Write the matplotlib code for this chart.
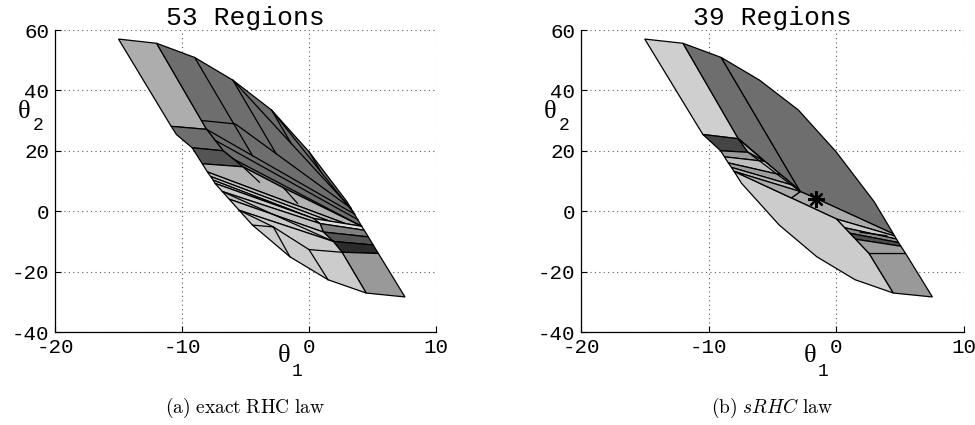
import matplotlib
matplotlib.use("Agg")
import matplotlib.pyplot as plt
from matplotlib.patches import Polygon

plt.rcParams['axes.unicode_minus'] = False
plt.rcParams['mathtext.fontset'] = 'cm'

# ---------------- data ----------------
titles = ["53 Regions", "39 Regions"]
captions = [r"$\mathrm{(a)\ exact\ RHC\ law}$", r"$\mathrm{(b)}\ sRHC\ \mathrm{law}$"]
xticks = [-20, -10, 0, 10]
yticks = [-40, -20, 0, 20, 40, 60]

# left plot: exact RHC partition (polygon vertices in (theta1, theta2))
left_regions = [
    [(-15, 57), (-12, 55.6), (-8.06, 27.1), (-10.85, 28.1)],
    [(-12, 55.6), (-9, 50.9), (-6, 43.4), (-2.95, 33.5), (0, 19.7), (3, 3.1), (4.15, -5.0),
     (-2.0, 7.7), (-5.2, 14.7), (-6.75, 20.0), (-8.06, 27.1)],
    [(-10.85, 28.1), (-8.06, 27.1), (-6.75, 20.0), (-9.2, 21.0), (-10.44, 25.4)],
    [(-9.2, 21.0), (-6.75, 20.0), (-5.2, 14.7), (-8.4, 15.7)],
    [(-8.4, 15.7), (-5.2, 14.7), (-2.0, 7.7), (4.15, -5.0), (2.9, -4.15), (-8.0, 13.0)],
    [(-8.0, 13.0), (2.9, -4.15), (1.6, -3.26), (-7.75, 11.5)],
    [(-7.75, 11.5), (1.6, -3.26), (0.34, -2.4), (-7.55, 10.3)],
    [(-7.55, 10.3), (0.34, -2.4), (-7.4, 9.2)],
    [(0.34, -2.4), (4.15, -5.0), (4.35, -6.3), (0.87, -4.1)],
    [(0.87, -4.1), (4.35, -6.3), (4.67, -8.5), (1.13, -6.9)],
    [(1.13, -6.9), (4.67, -8.5), (5.06, -11.2), (1.91, -10.0)],
    [(1.91, -10.0), (5.06, -11.2), (5.46, -14.0), (2.6, -13.6)],
    [(2.6, -13.6), (5.46, -14.0), (7.56, -28.4), (4.5, -27.1)],
    [(-7.4, 9.2), (0.34, -2.4), (0.87, -4.1), (-6.82, 6.5)],
    [(-6.82, 6.5), (0.87, -4.1), (1.13, -6.9), (-6.29, 4.0)],
    [(-6.29, 4.0), (1.13, -6.9), (1.91, -10.0), (-5.5, 0.3)],
    [(-5.5, 0.3), (1.91, -10.0), (2.6, -13.6), (4.5, -27.1), (1.5, -22.7), (-1.5, -15.1),
     (-4.45, -4.6)],
]
left_grays = [0.68, 0.43, 0.43, 0.33, 0.70, 0.75, 0.80, 0.72, 0.88, 0.50, 0.33, 0.17,
              0.60, 0.80, 0.76, 0.80, 0.80]
left_edges = [
    [(-9, 50.9), (-4.45, 18.4)],
    [(-6, 43.4), (-2.59, 19.05)],
    [(-2.95, 33.5), (-1.40, 22.4)],
    [(0, 19.7), (0.92, 13.1)],
    [(-8.4, 30.0), (-5.8, 28.9), (3.3, 1.0)],
    [(-8.06, 27.1), (3.6, -1.0)],
    [(-7.4, 23.5), (3.85, -2.8)],
    [(-6.0, 17.4), (4.15, -5.0)],
    [(-6, 43.4), (3.3, 1.0)],
    [(-2.95, 33.5), (3.6, -1.0)],
    [(-5.2, 14.7), (-3.9, 9.6)],
    [(-2.0, 7.7), (-0.9, 2.6)],
    [(-2.81, -5.2), (-1.5, -15.1)],
    [(0.0, -12.7), (1.5, -22.7)],
    [(-5.5, 0.3), (-2.81, -5.2), (0.0, -12.7), (2.6, -13.6)],
    [(-6.82, 6.5), (1.91, -10.0)],
    [(-4.45, -4.6), (-2.81, -5.2)],
]

# right plot: sRHC partition
right_regions = [
    [(-15, 57), (-12, 55.6), (-7.66, 24.0), (-10.44, 25.4)],
    [(-12, 55.6), (-9, 50.9), (-2.8, 6.5), (-7.66, 24.0)],
    [(-9, 50.9), (-6, 43.4), (-2.95, 33.5), (0, 19.7), (3, 3.1), (4.5, -7.5), (-1.6, 4.3),
     (-2.8, 6.5)],
    [(-2.8, 6.5), (-1.6, 4.3), (4.5, -7.5), (4.6, -8.2), (0.05, -2.6), (-3.5, 4.4)],
    [(-8.0, 13.2), (0.05, -2.6), (2.6, -14.0), (4.5, -27.1), (1.5, -22.7), (-1.5, -15.1),
     (-4.45, -4.6), (-7.4, 9.2)],
    [(2.6, -14.0), (5.46, -14.0), (7.56, -28.4), (4.5, -27.1)],
    [(0.05, -2.6), (4.6, -8.2), (4.74, -9.2), (0.7, -5.5)],
    [(0.7, -5.5), (4.74, -9.2), (4.91, -10.4), (1.1, -7.3)],
    [(1.1, -7.3), (4.91, -10.4), (5.09, -11.6), (1.55, -9.3)],
    [(1.55, -9.3), (5.09, -11.6), (5.46, -14.0), (2.6, -14.0)],
    [(-10.44, 25.4), (-7.66, 24.0), (-6.9, 19.5), (-9.05, 20.0)],
    [(-7.66, 24.0), (-2.8, 6.5), (-3.3, 8.5), (-4.3, 12.0), (-5.6, 16.5), (-6.9, 19.5)],
    [(-9.05, 20.0), (-6.9, 19.5), (-5.6, 16.5), (-8.75, 18.0)],
    [(-8.75, 18.0), (-5.6, 16.5), (-4.3, 12.0), (-8.45, 16.0)],
    [(-8.45, 16.0), (-4.3, 12.0), (-3.3, 8.5), (-8.2, 14.5)],
    [(-8.2, 14.5), (-3.3, 8.5), (-2.8, 6.5), (-8.0, 13.2)],
    [(-8.0, 13.2), (-2.8, 6.5), (-3.5, 4.4)],
]
right_grays = [0.81, 0.43, 0.43, 0.67, 0.80, 0.60, 0.80, 0.55, 0.30, 0.62,
               0.27, 0.68, 0.60, 0.75, 0.62, 0.72, 0.67]
right_edges = [
    [(-7.66, 24.0), (-5.99, 18.0)],
    [(-6.9, 19.5), (-2.8, 6.5)],
    [(1.9, -7.0), (3.98, -8.1)],
]
star_point = (-1.57, 4.0)

# ---------------- figure ----------------
W, H = 975, 425
fig = plt.figure(figsize=(W / 100, H / 100), dpi=100)

mono = 'Liberation Mono'
axes_px = [(55, 436), (581, 963.5)]
top_px, bot_px = 30, 332

panels = [(left_regions, left_grays, left_edges), (right_regions, right_grays, right_edges)]
for k, (regs, grays, edges) in enumerate(panels):
    x0, x1 = axes_px[k]
    ax = fig.add_axes([x0 / W, 1 - bot_px / H, (x1 - x0) / W, (bot_px - top_px) / H])
    ax.set_xlim(-20, 10)
    ax.set_ylim(-40, 60)
    ax.set_xticks(xticks)
    ax.set_yticks(yticks)
    ax.set_xticklabels([str(v) for v in xticks], family=mono, fontsize=15)
    ax.set_yticklabels([str(v) for v in yticks], family=mono, fontsize=15)
    ax.tick_params(direction='in', length=4, width=0.8, pad=4)
    for s in ['top', 'right']:
        ax.spines[s].set_visible(False)
    for s in ['left', 'bottom']:
        ax.spines[s].set_linewidth(0.9)
    ax.set_axisbelow(True)
    ax.grid(True, linestyle=(0, (1, 3)), color='0.35', linewidth=0.8)
    for verts, g in zip(regs, grays):
        ax.add_patch(Polygon(verts, closed=True, facecolor=str(g), edgecolor='black',
                             linewidth=0.9, zorder=2))
    for seg in edges:
        xs = [p[0] for p in seg]
        ys = [p[1] for p in seg]
        ax.plot(xs, ys, color='black', linewidth=0.9, zorder=3)
    if k == 1:
        ax.plot([star_point[0]], [star_point[1]], marker=(8, 2, 0), markersize=12,
                markeredgewidth=1.6, color='black', zorder=5)
    ax.set_title(titles[k], family=mono, fontsize=19, pad=3)
    # axis labels (Matlab-like placement, given in axes-relative pixels)
    axw, axh = (x1 - x0), (bot_px - top_px)
    def lab(px, py, s, fam, fs):
        ax.text((px - x0) / axw, (bot_px - py) / axh, s, family=fam, fontsize=fs,
                ha='center', va='center', transform=ax.transAxes, clip_on=False)
    lab(x0 + 229, 356, 'θ', 'Liberation Serif', 19)
    lab(x0 + 242, 372, '1', mono, 13)
    lab(x0 - 31, 112, 'θ', 'Liberation Serif', 19)
    lab(x0 - 17, 125, '2', mono, 13)
    cx = (x0 + x1) / 2 / W
    fig.text(cx, 1 - 408 / H, captions[k], fontsize=14, ha='center', va='center')

fig.savefig('out.png', dpi=100)
